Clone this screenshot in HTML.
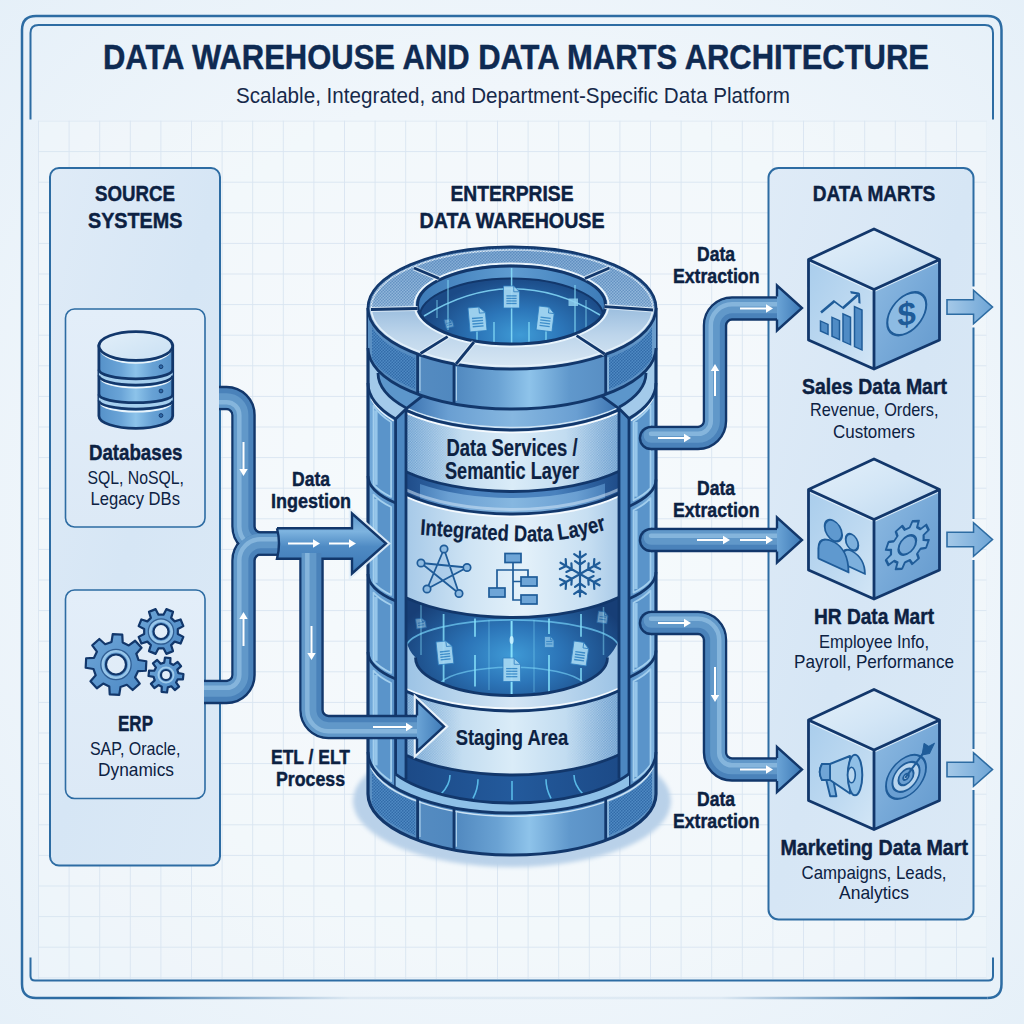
<!DOCTYPE html>
<html lang="en"><head><meta charset="utf-8"><title>Data Warehouse and Data Marts Architecture</title>
<style>
html,body{margin:0;padding:0;background:#eef4fa;}
body{width:1024px;height:1024px;overflow:hidden;}
svg{display:block;font-family:"Liberation Sans",sans-serif;}
</style></head><body>
<svg width="1024" height="1024" viewBox="0 0 1024 1024">

<defs>
<radialGradient id="bg" cx="50%" cy="50%" r="75%">
 <stop offset="0" stop-color="#f6fafd"/><stop offset="0.55" stop-color="#f0f6fb"/><stop offset="1" stop-color="#e4eff8"/>
</radialGradient>
<linearGradient id="botline" x1="0" x2="1" y1="0" y2="0">
 <stop offset="0" stop-color="#2d6ca3"/><stop offset="0.08" stop-color="#2d6ca3"/><stop offset="0.33" stop-color="#2d6ca3" stop-opacity="0.08"/><stop offset="0.72" stop-color="#2d6ca3" stop-opacity="0.08"/><stop offset="0.93" stop-color="#2d6ca3"/><stop offset="1" stop-color="#2d6ca3"/>
</linearGradient>
<linearGradient id="panel" x1="0" x2="1" y1="0" y2="1">
 <stop offset="0" stop-color="#dfebf7"/><stop offset="0.5" stop-color="#d6e6f5"/><stop offset="1" stop-color="#dbe9f6"/>
</linearGradient>
<linearGradient id="ibox" x1="0" x2="0" y1="0" y2="1">
 <stop offset="0" stop-color="#e3eef9"/><stop offset="1" stop-color="#dce9f6"/>
</linearGradient>
<pattern id="grid" x="38" y="120.5" width="30.6" height="30.6" patternUnits="userSpaceOnUse">
 <path d="M0.5,0 V30.6 M0,0.5 H30.6" stroke="#d9e5f1" stroke-width="0.9" fill="none"/>
</pattern>
</defs>

<defs>
<linearGradient id="shaftH" x1="0" x2="0" y1="0" y2="1">
 <stop offset="0" stop-color="#5c97cc"/><stop offset="0.3" stop-color="#7db3df"/><stop offset="0.55" stop-color="#4f8bc4"/><stop offset="1" stop-color="#3c77b4"/>
</linearGradient>
<linearGradient id="headH" x1="0" x2="1" y1="0" y2="0">
 <stop offset="0" stop-color="#6ba4d6"/><stop offset="1" stop-color="#3d79b6"/>
</linearGradient>
<linearGradient id="outArrow" x1="0" x2="1" y1="0" y2="0">
 <stop offset="0" stop-color="#a5c9e8"/><stop offset="1" stop-color="#6ea5d6"/>
</linearGradient>
</defs>

<defs>
<linearGradient id="cubeTop" x1="0" x2="1" y1="0" y2="1">
 <stop offset="0" stop-color="#e4f0fa"/><stop offset="0.5" stop-color="#d3e6f6"/><stop offset="1" stop-color="#bcd7ef"/>
</linearGradient>
<linearGradient id="cubeL" x1="0" x2="1" y1="0" y2="1">
 <stop offset="0" stop-color="#a9cdec"/><stop offset="0.6" stop-color="#bfdaf1"/><stop offset="1" stop-color="#d3e6f6"/>
</linearGradient>
<linearGradient id="cubeR" x1="0" x2="1" y1="0" y2="1">
 <stop offset="0" stop-color="#8fbbe2"/><stop offset="0.5" stop-color="#77a9d8"/><stop offset="1" stop-color="#6399cd"/>
</linearGradient>
</defs>

<defs>
<linearGradient id="dbSide" x1="0" x2="1" y1="0" y2="0">
 <stop offset="0" stop-color="#5591c9"/><stop offset="0.3" stop-color="#6aa4d7"/><stop offset="0.5" stop-color="#8cc3ea"/><stop offset="0.72" stop-color="#68a2d5"/><stop offset="1" stop-color="#5490c8"/>
</linearGradient>
<linearGradient id="dbTop" x1="0" x2="1" y1="0" y2="1">
 <stop offset="0" stop-color="#e2eff9"/><stop offset="1" stop-color="#c9e0f3"/>
</linearGradient>
<linearGradient id="gearG" x1="0" x2="1" y1="0" y2="1">
 <stop offset="0" stop-color="#6ea6d8"/><stop offset="1" stop-color="#4b87c3"/>
</linearGradient>
</defs>

<defs>
<pattern id="dots" width="3" height="3" patternUnits="userSpaceOnUse">
 <circle cx="0.8" cy="0.8" r="0.85" fill="#275f9f" opacity="0.75"/><circle cx="2.3" cy="2.3" r="0.85" fill="#275f9f" opacity="0.75"/>
</pattern>
<pattern id="dotsL" width="2.6" height="2.6" patternUnits="userSpaceOnUse">
 <circle cx="0.7" cy="0.7" r="0.8" fill="#5088c2" opacity="0.8"/><circle cx="2" cy="2" r="0.8" fill="#5088c2" opacity="0.8"/>
</pattern>
<linearGradient id="fadeL" x1="0" x2="1"><stop offset="0" stop-color="#fff" stop-opacity="1"/><stop offset="1" stop-color="#fff" stop-opacity="0"/></linearGradient>
<linearGradient id="fadeR" x1="0" x2="1"><stop offset="0" stop-color="#fff" stop-opacity="0"/><stop offset="1" stop-color="#fff" stop-opacity="1"/></linearGradient>
<mask id="mDotL" maskUnits="userSpaceOnUse" x="400" y="380" width="70" height="420"><rect x="400" y="380" width="62" height="420" fill="url(#fadeL)"/></mask>
<mask id="mDotR" maskUnits="userSpaceOnUse" x="560" y="380" width="70" height="420"><rect x="566" y="380" width="56" height="420" fill="url(#fadeR)"/></mask>
<filter id="blur2" x="-10%" y="-10%" width="120%" height="120%"><feGaussianBlur stdDeviation="2.2"/></filter>
<radialGradient id="shadow" cx="50%" cy="50%" r="50%">
 <stop offset="0" stop-color="#b9d2ea"/><stop offset="0.85" stop-color="#c3d9ee"/><stop offset="1" stop-color="#c9ddf0" stop-opacity="0.3"/>
</radialGradient>
<linearGradient id="capSide" gradientUnits="userSpaceOnUse" x1="368" x2="656" y1="0" y2="0">
 <stop offset="0" stop-color="#5b90c3"/><stop offset="0.3" stop-color="#5088bf"/><stop offset="0.45" stop-color="#6aa2d3"/><stop offset="0.56" stop-color="#8ec3ea"/><stop offset="0.7" stop-color="#6098cc"/><stop offset="0.85" stop-color="#578dc2"/><stop offset="1" stop-color="#6b9dcc"/>
</linearGradient>
<linearGradient id="capTop" gradientUnits="userSpaceOnUse" x1="0" x2="0" y1="247" y2="369">
 <stop offset="0" stop-color="#7fa9d3"/><stop offset="0.45" stop-color="#94b9dc"/><stop offset="0.72" stop-color="#bdd5eb"/><stop offset="1" stop-color="#d9e8f4"/>
</linearGradient>
<linearGradient id="holeWall" gradientUnits="userSpaceOnUse" x1="418" x2="606" y1="0" y2="0">
 <stop offset="0" stop-color="#3d7bb8"/><stop offset="0.5" stop-color="#5e9bd0"/><stop offset="1" stop-color="#3d7bb8"/>
</linearGradient>
<radialGradient id="holeGlow" gradientUnits="userSpaceOnUse" cx="520" cy="335" r="95" gradientTransform="translate(0,134) scale(1,0.6)">
 <stop offset="0" stop-color="#3f9bd6"/><stop offset="0.45" stop-color="#2c76b9"/><stop offset="1" stop-color="#1b4a86"/>
</radialGradient>
<linearGradient id="shell" gradientUnits="userSpaceOnUse" x1="368" x2="656" y1="0" y2="0">
 <stop offset="0" stop-color="#74abdb"/><stop offset="0.09" stop-color="#5a93c9"/><stop offset="0.91" stop-color="#5a93c9"/><stop offset="1" stop-color="#82b6e1"/>
</linearGradient>
<linearGradient id="face1" gradientUnits="userSpaceOnUse" x1="406" x2="619" y1="0" y2="0">
 <stop offset="0" stop-color="#9bc2e3"/><stop offset="0.25" stop-color="#c2dcf0"/><stop offset="0.5" stop-color="#daecf8"/><stop offset="0.8" stop-color="#bdd9ef"/><stop offset="1" stop-color="#96bde0"/>
</linearGradient>
<linearGradient id="face2" gradientUnits="userSpaceOnUse" x1="406" x2="619" y1="0" y2="0">
 <stop offset="0" stop-color="#a6c9e8"/><stop offset="0.3" stop-color="#cfe4f4"/><stop offset="0.55" stop-color="#e4f1fa"/><stop offset="0.85" stop-color="#c7dff2"/><stop offset="1" stop-color="#a9cae8"/>
</linearGradient>
<linearGradient id="gapG" gradientUnits="userSpaceOnUse" x1="406" x2="619" y1="0" y2="0">
 <stop offset="0" stop-color="#1f4c89"/><stop offset="0.14" stop-color="#2d619f"/><stop offset="0.3" stop-color="#4a82be"/><stop offset="0.7" stop-color="#4a82be"/><stop offset="0.86" stop-color="#2d619f"/><stop offset="1" stop-color="#1f4c89"/>
</linearGradient>
<linearGradient id="discTop" gradientUnits="userSpaceOnUse" x1="406" x2="619" y1="0" y2="0">
 <stop offset="0" stop-color="#3a72b0"/><stop offset="0.2" stop-color="#6a9fd2"/><stop offset="0.5" stop-color="#86b7e0"/><stop offset="0.8" stop-color="#6a9fd2"/><stop offset="1" stop-color="#3a72b0"/>
</linearGradient>
<radialGradient id="glow" gradientUnits="userSpaceOnUse" cx="512" cy="655" r="120" gradientTransform="translate(0,262) scale(1,0.6)">
 <stop offset="0" stop-color="#3f9ad6"/><stop offset="0.4" stop-color="#2c75b8"/><stop offset="1" stop-color="#173e76"/>
</radialGradient>
<linearGradient id="darkBand" gradientUnits="userSpaceOnUse" x1="406" x2="619" y1="0" y2="0">
 <stop offset="0" stop-color="#1c4a87"/><stop offset="0.5" stop-color="#235a9c"/><stop offset="1" stop-color="#1c4a87"/>
</linearGradient>
<linearGradient id="ringTop" gradientUnits="userSpaceOnUse" x1="406" x2="619" y1="0" y2="0">
 <stop offset="0" stop-color="#9cc3e5"/><stop offset="0.5" stop-color="#d4e6f5"/><stop offset="1" stop-color="#9cc3e5"/>
</linearGradient>
<clipPath id="winClip"><rect x="406" y="340" width="213" height="520"/></clipPath>
</defs>
<rect width="1024" height="1024" fill="url(#bg)"/>
<rect x="38" y="120.5" width="948" height="858" fill="#f8fbfd" opacity="0.3"/>
<rect x="38" y="120.5" width="948.5" height="858.5" fill="url(#grid)"/>
<path d="M36,998 Q22,998 22,984 V30 Q22,16 36,16 H987.5 Q1001.5,16 1001.5,30 V984 Q1001.5,998 987.5,998" fill="none" stroke="#2d6ca3" stroke-width="2.5"/>
<rect x="36" y="996.75" width="951.5" height="2.5" fill="url(#botline)"/>
<path d="M30.5,119.5 V33 Q30.5,25 38.5,25 H985 Q993,25 993,33 V119.5" fill="none" stroke="#2d6ca3" stroke-width="2"/>
<path d="M30.5,957.5 V976 Q30.5,980.5 35,980.5 H988.5 Q993,980.5 993,976 V957.5" fill="none" stroke="#2d6ca3" stroke-width="2"/>
<rect x="50" y="168" width="170" height="697.5" rx="9" fill="url(#panel)" stroke="#2d6ca3" stroke-width="2"/>
<rect x="65.5" y="309" width="139.5" height="218" rx="9" fill="url(#ibox)" stroke="#2d6ca3" stroke-width="1.6"/>
<rect x="65.5" y="590" width="139.5" height="208.5" rx="9" fill="url(#ibox)" stroke="#2d6ca3" stroke-width="1.6"/>
<rect x="768.5" y="168" width="205" height="751.5" rx="10" fill="url(#panel)" stroke="#2d6ca3" stroke-width="2"/>
<ellipse cx="512" cy="801" rx="159" ry="66" fill="#b9d1e9" filter="url(#blur2)"/>
<path d="M368,383 V794 A144,61 0 0 0 656,794 V383 Z" fill="#183f78"/>
<g clip-path="url(#winClip)">
<path d="M406,386.29 A144,61 0 0 0 619,385.82 L619,409.82 A144,61 0 0 1 406,410.29 Z" fill="url(#discTop)"/>
<path d="M406,407.89 A144,61 0 0 0 619,407.42" fill="none" stroke="#cfe4f5" stroke-width="1.6"/>
<rect x="406" y="560" width="213" height="160" fill="url(#glow)"/>
<path d="M406,646 A107,29 0 0 1 619,646" fill="none" stroke="#6fc8f0" stroke-width="1.8" opacity="0.75"/>
<path d="M440,683 A75,22 0 0 1 584,683" fill="none" stroke="#6fc8f0" stroke-width="1.5" opacity="0.7"/>
<path d="M421,605 V655" stroke="#86e0fa" stroke-width="1.5" opacity="0.45"/>
<path d="M443.6,614 V682" stroke="#86e0fa" stroke-width="1.8" opacity="0.8"/>
<path d="M475,618.5 V636.7" stroke="#86e0fa" stroke-width="1.8" opacity="0.85"/>
<path d="M475,655 V686.5" stroke="#86e0fa" stroke-width="1.8" opacity="0.85"/>
<path d="M489,620 V690" stroke="#86e0fa" stroke-width="1.3" opacity="0.35"/>
<path d="M511.6,621 V696" stroke="#86e0fa" stroke-width="2" opacity="1"/>
<path d="M534,620 V692" stroke="#86e0fa" stroke-width="1.3" opacity="0.35"/>
<path d="M549,618.5 V634" stroke="#86e0fa" stroke-width="1.8" opacity="0.85"/>
<path d="M549,655 V693" stroke="#86e0fa" stroke-width="1.8" opacity="0.85"/>
<path d="M581,614 V636.7" stroke="#86e0fa" stroke-width="1.8" opacity="0.8"/>
<path d="M581,668 V681" stroke="#86e0fa" stroke-width="1.8" opacity="0.8"/>
<path d="M603.5,607 V655" stroke="#86e0fa" stroke-width="1.5" opacity="0.45"/>
<ellipse cx="511.6" cy="640" rx="2" ry="4" fill="#c9f2ff" opacity="0.9"/>
<g transform="translate(436,642) rotate(-6)" opacity="0.92"><path d="M0,0 H9.92 L15.5,5.58 V23 H0 Z" fill="#a5d8f3" stroke="#2f7fc0" stroke-width="0.8"/><path d="M9.92,0 V5.58 H15.5" fill="none" stroke="#2f7fc0" stroke-width="0.8"/><path d="M2.79,10.35 H12.71" stroke="#3f8fcb" stroke-width="1.3"/><path d="M2.79,12.99 H12.71" stroke="#3f8fcb" stroke-width="1.3"/><path d="M2.79,15.64 H12.71" stroke="#3f8fcb" stroke-width="1.3"/><path d="M2.79,18.29 H12.71" stroke="#3f8fcb" stroke-width="1.3"/></g>
<g transform="translate(503,658) rotate(0)" opacity="0.92"><path d="M0,0 H11.2 L17.5,6.3 V23.5 H0 Z" fill="#a5d8f3" stroke="#2f7fc0" stroke-width="0.8"/><path d="M11.2,0 V6.3 H17.5" fill="none" stroke="#2f7fc0" stroke-width="0.8"/><path d="M3.15,10.58 H14.35" stroke="#3f8fcb" stroke-width="1.3"/><path d="M3.15,13.28 H14.35" stroke="#3f8fcb" stroke-width="1.3"/><path d="M3.15,15.98 H14.35" stroke="#3f8fcb" stroke-width="1.3"/><path d="M3.15,18.68 H14.35" stroke="#3f8fcb" stroke-width="1.3"/></g>
<g transform="translate(574,641) rotate(8)" opacity="0.92"><path d="M0,0 H9.92 L15.5,5.58 V23 H0 Z" fill="#a5d8f3" stroke="#2f7fc0" stroke-width="0.8"/><path d="M9.92,0 V5.58 H15.5" fill="none" stroke="#2f7fc0" stroke-width="0.8"/><path d="M2.79,10.35 H12.71" stroke="#3f8fcb" stroke-width="1.3"/><path d="M2.79,12.99 H12.71" stroke="#3f8fcb" stroke-width="1.3"/><path d="M2.79,15.64 H12.71" stroke="#3f8fcb" stroke-width="1.3"/><path d="M2.79,18.29 H12.71" stroke="#3f8fcb" stroke-width="1.3"/></g>
<g transform="translate(415.5,619) rotate(-8)" opacity="0.55"><path d="M0,0 H6.08 L9.5,3.42 V10 H0 Z" fill="#a5d8f3" stroke="#2f7fc0" stroke-width="0.8"/><path d="M6.08,0 V3.42 H9.5" fill="none" stroke="#2f7fc0" stroke-width="0.8"/><path d="M1.71,4.5 H7.79" stroke="#3f8fcb" stroke-width="1"/><path d="M1.71,6.8 H7.79" stroke="#3f8fcb" stroke-width="1"/></g>
<g transform="translate(544.5,636.5) rotate(0)" opacity="0.6"><path d="M0,0 H6.08 L9.5,3.42 V11 H0 Z" fill="#a5d8f3" stroke="#2f7fc0" stroke-width="0.8"/><path d="M6.08,0 V3.42 H9.5" fill="none" stroke="#2f7fc0" stroke-width="0.8"/><path d="M1.71,4.95 H7.79" stroke="#3f8fcb" stroke-width="1"/><path d="M1.71,7.48 H7.79" stroke="#3f8fcb" stroke-width="1"/></g>
<g transform="translate(598.5,611) rotate(8)" opacity="0.55"><path d="M0,0 H6.4 L10,3.6 V11.5 H0 Z" fill="#a5d8f3" stroke="#2f7fc0" stroke-width="0.8"/><path d="M6.4,0 V3.6 H10" fill="none" stroke="#2f7fc0" stroke-width="0.8"/><path d="M1.8,5.17 H8.2" stroke="#3f8fcb" stroke-width="1"/><path d="M1.8,7.82 H8.2" stroke="#3f8fcb" stroke-width="1"/></g>
<path d="M406,640 Q408.5,651 415.5,657.5 A96,38 0 0 0 607.5,657.5 Q614.5,651 619,640 V689.82 A144,61 0 0 1 406,690.29 Z" fill="url(#ringTop)"/>
<path d="M415.5,657.5 A96,38 0 0 0 607.5,657.5" fill="none" stroke="#12376b" stroke-width="2.8"/>
<path d="M406,691.29 A144,61 0 0 0 619,690.82 L619,754.82 A144,61 0 0 1 406,755.29 Z" fill="url(#face1)"/>
<path d="M406,691.29 A144,61 0 0 0 619,690.82 L619,754.82 A144,61 0 0 1 406,755.29 Z" fill="url(#dotsL)" mask="url(#mDotL)"/>
<path d="M406,691.29 A144,61 0 0 0 619,690.82 L619,754.82 A144,61 0 0 1 406,755.29 Z" fill="url(#dotsL)" mask="url(#mDotR)"/>
<path d="M406,688.69 A144,61 0 0 0 619,688.22" fill="none" stroke="#f4f9fd" stroke-width="1.6"/>
<path d="M406,691.29 A144,61 0 0 0 619,690.82" fill="none" stroke="#12376b" stroke-width="2.8"/>
<path d="M394,748.96 A144,61 0 0 0 631,748.35 L631,786.35 A144,61 0 0 1 394,786.96 Z" fill="url(#darkBand)"/>
<path d="M450,775.06 Q450,785.06 441,794.06" stroke="#5fc4f0" stroke-width="1.6" fill="none" opacity="0.9"/>
<path d="M478,779.28 Q478,789.28 473,798.28" stroke="#5fc4f0" stroke-width="1.6" fill="none" opacity="0.9"/>
<path d="M512,781 Q512,791 512,800" stroke="#5fc4f0" stroke-width="1.6" fill="none" opacity="0.9"/>
<path d="M546,779.28 Q546,789.28 551,798.28" stroke="#5fc4f0" stroke-width="1.6" fill="none" opacity="0.9"/>
<path d="M574,775.06 Q574,785.06 583,794.06" stroke="#5fc4f0" stroke-width="1.6" fill="none" opacity="0.9"/>
<path d="M406,755.29 A144,61 0 0 0 619,754.82" fill="none" stroke="#12376b" stroke-width="2.8"/>
<path d="M406,471.79 A144,61 0 0 0 619,471.32 L619,493.82 A144,61 0 0 1 406,494.29 Z" fill="url(#gapG)"/>
<path d="M420,483.93 A144,61 0 0 0 605,483.57 L605,499.57 A144,61 0 0 1 420,499.93 Z" fill="url(#discTop)"/>
<path d="M406,489.79 A144,61 0 0 0 619,489.32" fill="none" stroke="#cfe4f5" stroke-width="3" opacity="0.55"/>
<path d="M406,494.29 A144,61 0 0 0 619,493.82 L619,597.32 A144,61 0 0 1 406,597.79 Z" fill="url(#face2)"/>
<path d="M406,496.79 A144,61 0 0 0 619,496.32" fill="none" stroke="#f6fafe" stroke-width="1.6"/>
<path d="M406,494.29 A144,61 0 0 0 619,493.82" fill="none" stroke="#12376b" stroke-width="2.8"/>
<path d="M406,597.79 A144,61 0 0 0 619,597.32" fill="none" stroke="#12376b" stroke-width="2.8"/>
<path d="M406,410.29 A144,61 0 0 0 619,409.82 L619,471.32 A144,61 0 0 1 406,471.79 Z" fill="url(#face1)"/>
<path d="M406,410.29 A144,61 0 0 0 619,409.82 L619,471.32 A144,61 0 0 1 406,471.79 Z" fill="url(#dotsL)" mask="url(#mDotL)"/>
<path d="M406,410.29 A144,61 0 0 0 619,409.82 L619,471.32 A144,61 0 0 1 406,471.79 Z" fill="url(#dotsL)" mask="url(#mDotR)"/>
<path d="M406,412.79 A144,61 0 0 0 619,412.32" fill="none" stroke="#f6fafe" stroke-width="1.6"/>
<path d="M406,410.29 A144,61 0 0 0 619,409.82" fill="none" stroke="#12376b" stroke-width="2.8"/>
<path d="M406,471.79 A144,61 0 0 0 619,471.32" fill="none" stroke="#12376b" stroke-width="2.8"/>
</g>
<path d="M395.6,418.91 L406,408.91 V778.91 L395.6,787.91 Z" fill="#4c87c1"/>
<path d="M368,383 A144,61 0 0 0 395.6,418.91 L395.6,787.91 L395.6,787.91 A144,61 0 0 1 368,752 Z" fill="url(#shell)"/>
<path d="M373.5,405.7 A144,61 0 0 0 391.1,422.14 L391.1,496.99 L391.1,496.99 A144,46 0 0 1 373.5,484.59 Z" fill="#5a94ca" stroke="#a3cfee" stroke-width="1.7" stroke-linejoin="round"/>
<path d="M375.9,410.39 V484.87" fill="none" stroke="#9ccbed" stroke-width="3.4" opacity="0.9"/>
<path d="M373.5,494.59 A144,46 0 0 0 391.1,506.99 L391.1,594.99 L391.1,594.99 A144,46 0 0 1 373.5,582.59 Z" fill="#5a94ca" stroke="#a3cfee" stroke-width="1.7" stroke-linejoin="round"/>
<path d="M375.9,498.87 V582.87" fill="none" stroke="#9ccbed" stroke-width="3.4" opacity="0.9"/>
<path d="M373.5,592.59 A144,46 0 0 0 391.1,604.99 L391.1,672.99 L391.1,672.99 A144,46 0 0 1 373.5,660.59 Z" fill="#5a94ca" stroke="#a3cfee" stroke-width="1.7" stroke-linejoin="round"/>
<path d="M375.9,596.87 V660.87" fill="none" stroke="#9ccbed" stroke-width="3.4" opacity="0.9"/>
<path d="M373.5,670.59 A144,46 0 0 0 391.1,682.99 L391.1,781.14 L391.1,781.14 A144,61 0 0 1 373.5,764.7 Z" fill="#5a94ca" stroke="#a3cfee" stroke-width="1.7" stroke-linejoin="round"/>
<path d="M375.9,674.87 V765.39" fill="none" stroke="#9ccbed" stroke-width="3.4" opacity="0.9"/>
<path d="M368,476 A144,46 0 0 0 395.6,503.08" fill="none" stroke="#12376b" stroke-width="2.8"/>
<path d="M368,574 A144,46 0 0 0 395.6,601.08" fill="none" stroke="#12376b" stroke-width="2.8"/>
<path d="M368,652 A144,46 0 0 0 395.6,679.08" fill="none" stroke="#12376b" stroke-width="2.8"/>
<path d="M395.6,418.91 V787.91" stroke="#12376b" stroke-width="2.8"/>
<path d="M406,408.91 V778.91" stroke="#12376b" stroke-width="2.8"/>
<path d="M395.6,787.91 L406,778.91" stroke="#12376b" stroke-width="2.8"/>
<path d="M629,418.56 L619,408.56 V778.56 L629,787.56 Z" fill="#4c87c1"/>
<path d="M656,383 A144,61 0 0 1 629,418.56 L629,787.56 L629,787.56 A144,61 0 0 0 656,752 Z" fill="url(#shell)"/>
<path d="M650.5,405.7 A144,61 0 0 1 633.5,421.74 L633.5,500.29 L633.5,500.29 A144,46 0 0 0 650.5,488.19 Z" fill="#5a94ca" stroke="#a3cfee" stroke-width="1.7" stroke-linejoin="round"/>
<path d="M635.9,421.93 V496.68" fill="none" stroke="#9ccbed" stroke-width="3.4" opacity="0.9"/>
<path d="M650.5,498.19 A144,46 0 0 1 633.5,510.29 L633.5,592.69 L633.5,592.69 A144,46 0 0 0 650.5,580.59 Z" fill="#5a94ca" stroke="#a3cfee" stroke-width="1.7" stroke-linejoin="round"/>
<path d="M635.9,510.68 V589.08" fill="none" stroke="#9ccbed" stroke-width="3.4" opacity="0.9"/>
<path d="M650.5,590.59 A144,46 0 0 1 633.5,602.69 L633.5,671.29 L633.5,671.29 A144,46 0 0 0 650.5,659.19 Z" fill="#5a94ca" stroke="#a3cfee" stroke-width="1.7" stroke-linejoin="round"/>
<path d="M635.9,603.08 V667.68" fill="none" stroke="#9ccbed" stroke-width="3.4" opacity="0.9"/>
<path d="M650.5,669.19 A144,46 0 0 1 633.5,681.29 L633.5,780.74 L633.5,780.74 A144,61 0 0 0 650.5,764.7 Z" fill="#5a94ca" stroke="#a3cfee" stroke-width="1.7" stroke-linejoin="round"/>
<path d="M635.9,681.68 V776.93" fill="none" stroke="#9ccbed" stroke-width="3.4" opacity="0.9"/>
<path d="M656,479.6 A144,46 0 0 1 629,506.42" fill="none" stroke="#12376b" stroke-width="2.8"/>
<path d="M656,572 A144,46 0 0 1 629,598.82" fill="none" stroke="#12376b" stroke-width="2.8"/>
<path d="M656,650.6 A144,46 0 0 1 629,677.42" fill="none" stroke="#12376b" stroke-width="2.8"/>
<path d="M629,418.56 V787.56" stroke="#12376b" stroke-width="2.8"/>
<path d="M619,408.56 V778.56" stroke="#12376b" stroke-width="2.8"/>
<path d="M629,787.56 L619,778.56" stroke="#12376b" stroke-width="2.8"/>
<path d="M368,383 A144,61 0 0 0 395.6,418.91 L406,408.91 L422.5,395.79 L422.5,395.79 A144,61 0 0 1 368,348 Z" fill="#a3caea"/>
<path d="M378,373 A134,57 0 0 0 406,407.87 L422.5,395.79 L422.5,395.79 A144,61 0 0 1 368,348 Z" fill="#5c96cb"/>
<path d="M378,373 A134,57 0 0 0 406,407.87" fill="none" stroke="#12376b" stroke-width="2.8"/>
<path d="M395.6,418.91 L406,408.91 L422.5,395.79" fill="none" stroke="#12376b" stroke-width="2.8" stroke-linejoin="round"/>
<path d="M371,398.59 A144,61 0 0 0 393.6,420.92" fill="none" stroke="#e3f0fa" stroke-width="1.4"/>
<path d="M368,383 A144,61 0 0 0 395.6,418.91" fill="none" stroke="#12376b" stroke-width="2.8"/>
<path d="M656,383 A144,61 0 0 1 629,418.56 L619,408.56 L601.5,395.79 L601.5,395.79 A144,61 0 0 0 656,348 Z" fill="#a3caea"/>
<path d="M646,373 A134,57 0 0 1 619,407.31 L601.5,395.79 L601.5,395.79 A144,61 0 0 0 656,348 Z" fill="#5c96cb"/>
<path d="M646,373 A134,57 0 0 1 619,407.31" fill="none" stroke="#12376b" stroke-width="2.8"/>
<path d="M629,418.56 L619,408.56 L601.5,395.79" fill="none" stroke="#12376b" stroke-width="2.8" stroke-linejoin="round"/>
<path d="M653,398.59 A144,61 0 0 1 631,420.55" fill="none" stroke="#e3f0fa" stroke-width="1.4"/>
<path d="M656,383 A144,61 0 0 1 629,418.56" fill="none" stroke="#12376b" stroke-width="2.8"/>
<path d="M395.6,787.91 A144,61 0 0 0 629,787.56 L629,773.79 A134,57 0 0 1 395.6,774.24 Z" fill="#8ec0e7"/>
<path d="M395.6,774.24 A134,57 0 0 0 629,773.79" fill="none" stroke="#12376b" stroke-width="2.8"/>
<path d="M368,752 A144,61 0 0 0 656,752 V794 A144,61 0 0 1 368,794 Z" fill="url(#capSide)"/>
<path d="M372,771.28 A144,61 0 0 0 415.1,802.12 L415.1,835.12 L415.1,835.12 A144,61 0 0 1 372,804.28 Z" fill="#4f8ac3"/><path d="M372,771.28 A144,61 0 0 0 415.1,802.12 L415.1,835.12 L415.1,835.12 A144,61 0 0 1 372,804.28 Z" fill="url(#dots)"/>
<path d="M608.2,802.39 A144,61 0 0 0 652,771.28 L652,804.28 L652,804.28 A144,61 0 0 1 608.2,835.39 Z" fill="#4f8ac3"/><path d="M608.2,802.39 A144,61 0 0 0 652,771.28 L652,804.28 L652,804.28 A144,61 0 0 1 608.2,835.39 Z" fill="url(#dots)"/>
<path d="M371,767.69 A144,61 0 0 0 653,767.69" fill="none" stroke="#d9ecfa" stroke-width="1.5" opacity="0.9"/>
<path d="M417.6,798.06 V840.06" stroke="#12376b" stroke-width="2.8"/>
<path d="M420,801.06 V837.06" stroke="#bfe0f6" stroke-width="1.2" opacity="0.8"/>
<path d="M454,807.83 V849.83" stroke="#12376b" stroke-width="2.8"/>
<path d="M456.4,810.83 V846.83" stroke="#bfe0f6" stroke-width="1.2" opacity="0.8"/>
<path d="M605.7,798.32 V840.32" stroke="#12376b" stroke-width="2.8"/>
<path d="M608.1,801.32 V837.32" stroke="#bfe0f6" stroke-width="1.2" opacity="0.8"/>
<path d="M368,752 A144,61 0 0 0 656,752" fill="none" stroke="#12376b" stroke-width="2.8"/>
<path d="M368,308 V794 A144,61 0 0 0 656,794 V308" fill="none" stroke="#12376b" stroke-width="3.2"/>
<path d="M368,308 A144,61 0 0 0 656,308 V348 A144,61 0 0 1 368,348 Z" fill="url(#capSide)"/>
<path d="M372,327.28 A144,61 0 0 0 415.1,358.12 L415.1,389.12 L415.1,389.12 A144,61 0 0 1 372,358.28 Z" fill="#4f8ac3"/><path d="M372,327.28 A144,61 0 0 0 415.1,358.12 L415.1,389.12 L415.1,389.12 A144,61 0 0 1 372,358.28 Z" fill="url(#dots)"/>
<path d="M608.2,358.39 A144,61 0 0 0 652,327.28 L652,358.28 L652,358.28 A144,61 0 0 1 608.2,389.39 Z" fill="#4f8ac3"/><path d="M608.2,358.39 A144,61 0 0 0 652,327.28 L652,358.28 L652,358.28 A144,61 0 0 1 608.2,389.39 Z" fill="url(#dots)"/>
<path d="M417.6,354.06 V394.06" stroke="#12376b" stroke-width="2.8"/>
<path d="M420,357.06 V391.06" stroke="#bfe0f6" stroke-width="1.2" opacity="0.8"/>
<path d="M454,363.83 V403.83" stroke="#12376b" stroke-width="2.8"/>
<path d="M456.4,366.83 V400.83" stroke="#bfe0f6" stroke-width="1.2" opacity="0.8"/>
<path d="M605.7,354.32 V394.32" stroke="#12376b" stroke-width="2.8"/>
<path d="M608.1,357.32 V391.32" stroke="#bfe0f6" stroke-width="1.2" opacity="0.8"/>
<path d="M368,348 A144,61 0 0 0 656,348" fill="none" stroke="#12376b" stroke-width="2.8"/>
<ellipse cx="512" cy="308" rx="144" ry="61" fill="url(#capTop)" stroke="#12376b" stroke-width="2.8"/>
<ellipse cx="512" cy="308" rx="140.8" ry="58" fill="none" stroke="#e6f2fb" stroke-width="1.6" opacity="0.9"/>
<path d="M368,308 A144,61 0 0 1 656,308 L606,305 A94,39 0 0 0 418,305 Z" fill="url(#dots)" opacity="0.55"/>
<ellipse cx="511.5" cy="305" rx="97" ry="41.5" fill="none" stroke="#e9f4fc" stroke-width="1.8"/>
<ellipse cx="511.5" cy="305" rx="94" ry="39" fill="url(#holeWall)"/>
<clipPath id="holeClip"><ellipse cx="511.5" cy="305" rx="94" ry="39"/></clipPath>
<g clip-path="url(#holeClip)">
<ellipse cx="511.5" cy="317.5" rx="92" ry="39" fill="url(#holeGlow)" stroke="#12376b" stroke-width="2"/>
<path d="M424,316 Q512,262 600,315" fill="none" stroke="#7fd3f3" stroke-width="1.6" opacity="0.9"/>
<path d="M448,280 V330" stroke="#86dcf8" stroke-width="1.5" opacity="0.6"/>
<path d="M511.6,268 V345" stroke="#86dcf8" stroke-width="1.5" opacity="0.9"/>
<path d="M575,285 V335" stroke="#86dcf8" stroke-width="1.5" opacity="0.7"/>
<path d="M494,322 V342" stroke="#86dcf8" stroke-width="1.5" opacity="0.8"/>
<path d="M529,322 V342" stroke="#86dcf8" stroke-width="1.5" opacity="0.8"/>
<path d="M477,330 V345" stroke="#86dcf8" stroke-width="1.5" opacity="0.8"/>
<path d="M546,330 V345" stroke="#86dcf8" stroke-width="1.5" opacity="0.8"/>
<path d="M437,300 V318" stroke="#86dcf8" stroke-width="1.5" opacity="0.5"/>
<path d="M586,300 V330" stroke="#86dcf8" stroke-width="1.5" opacity="0.5"/>
<g transform="translate(503.5,286) rotate(0)" opacity="0.92"><path d="M0,0 H10.24 L16,5.76 V22 H0 Z" fill="#a5d8f3" stroke="#2f7fc0" stroke-width="0.8"/><path d="M10.24,0 V5.76 H16" fill="none" stroke="#2f7fc0" stroke-width="0.8"/><path d="M2.88,9.9 H13.12" stroke="#3f8fcb" stroke-width="1.3"/><path d="M2.88,12.43 H13.12" stroke="#3f8fcb" stroke-width="1.3"/><path d="M2.88,14.96 H13.12" stroke="#3f8fcb" stroke-width="1.3"/><path d="M2.88,17.49 H13.12" stroke="#3f8fcb" stroke-width="1.3"/></g>
<g transform="translate(468,308) rotate(-5)" opacity="0.92"><path d="M0,0 H10.88 L17,6.12 V24 H0 Z" fill="#a5d8f3" stroke="#2f7fc0" stroke-width="0.8"/><path d="M10.88,0 V6.12 H17" fill="none" stroke="#2f7fc0" stroke-width="0.8"/><path d="M3.06,10.8 H13.94" stroke="#3f8fcb" stroke-width="1.3"/><path d="M3.06,13.56 H13.94" stroke="#3f8fcb" stroke-width="1.3"/><path d="M3.06,16.32 H13.94" stroke="#3f8fcb" stroke-width="1.3"/><path d="M3.06,19.08 H13.94" stroke="#3f8fcb" stroke-width="1.3"/></g>
<g transform="translate(539,306) rotate(7)" opacity="0.92"><path d="M0,0 H10.24 L16,5.76 V24 H0 Z" fill="#a5d8f3" stroke="#2f7fc0" stroke-width="0.8"/><path d="M10.24,0 V5.76 H16" fill="none" stroke="#2f7fc0" stroke-width="0.8"/><path d="M2.88,10.8 H13.12" stroke="#3f8fcb" stroke-width="1.3"/><path d="M2.88,13.56 H13.12" stroke="#3f8fcb" stroke-width="1.3"/><path d="M2.88,16.32 H13.12" stroke="#3f8fcb" stroke-width="1.3"/><path d="M2.88,19.08 H13.12" stroke="#3f8fcb" stroke-width="1.3"/></g>
<rect x="568.5" y="298.5" width="9.5" height="7.5" fill="#8fd0f0" opacity="0.85"/>
<g transform="translate(444,320) rotate(-15)" opacity="0.5"><path d="M0,0 H5.12 L8,2.88 V9 H0 Z" fill="#a5d8f3" stroke="#2f7fc0" stroke-width="0.8"/><path d="M5.12,0 V2.88 H8" fill="none" stroke="#2f7fc0" stroke-width="0.8"/><path d="M1.44,4.05 H6.56" stroke="#3f8fcb" stroke-width="1"/><path d="M1.44,6.12 H6.56" stroke="#3f8fcb" stroke-width="1"/></g>
</g>
<ellipse cx="511.5" cy="305" rx="94" ry="39" fill="none" stroke="#12376b" stroke-width="3"/>
<path d="M414,268 L439,278.5" stroke="#e6f2fb" stroke-width="5" opacity="0.8"/>
<path d="M371,309.5 L417.6,308.5" stroke="#e6f2fb" stroke-width="5" opacity="0.8"/>
<path d="M420.5,353.5 L447.6,336.6" stroke="#e6f2fb" stroke-width="5" opacity="0.8"/>
<path d="M456,364 L474,342" stroke="#e6f2fb" stroke-width="5" opacity="0.8"/>
<path d="M609.4,268 L585,278.5" stroke="#e6f2fb" stroke-width="5" opacity="0.8"/>
<path d="M653,310 L604.7,306.6" stroke="#e6f2fb" stroke-width="5" opacity="0.8"/>
<path d="M604.7,354 L576.6,335.6" stroke="#e6f2fb" stroke-width="5" opacity="0.8"/>
<path d="M414,268 L439,278.5" stroke="#12376b" stroke-width="2.8"/>
<path d="M371,309.5 L417.6,308.5" stroke="#12376b" stroke-width="2.8"/>
<path d="M420.5,353.5 L447.6,336.6" stroke="#12376b" stroke-width="2.8"/>
<path d="M456,364 L474,342" stroke="#12376b" stroke-width="2.8"/>
<path d="M609.4,268 L585,278.5" stroke="#12376b" stroke-width="2.8"/>
<path d="M653,310 L604.7,306.6" stroke="#12376b" stroke-width="2.8"/>
<path d="M604.7,354 L576.6,335.6" stroke="#12376b" stroke-width="2.8"/>
<path d="M219,398 L226.5,398 A17,17 0 0 1 243.5,415 L243.5,526.5 A17,17 0 0 0 260.5,543.5 L300,543.5" fill="none" stroke="#12376b" stroke-width="24.5" stroke-linecap="butt"/>
<path d="M204,692 L226.5,692 A17,17 0 0 0 243.5,675 L243.5,560.5 A17,17 0 0 1 260.5,543.5 L300,543.5" fill="none" stroke="#12376b" stroke-width="24.5" stroke-linecap="butt"/>
<path d="M219,398 L226.5,398 A17,17 0 0 1 243.5,415 L243.5,526.5 A17,17 0 0 0 260.5,543.5 L300,543.5" fill="none" stroke="#4a82ba" stroke-width="19.7" stroke-linecap="butt"/><path d="M219,400.5 L226.5,400.5 A14.5,14.5 0 0 1 241,415 L241,526.5 A19.5,19.5 0 0 0 260.5,546 L300,546" fill="none" stroke="#6198c9" stroke-width="14.7" stroke-linecap="butt"/><path d="M219,402.2 L226.5,402.2 A12.8,12.8 0 0 1 239.3,415 L239.3,526.5 A21.2,21.2 0 0 0 260.5,547.7 L300,547.7" fill="none" stroke="#8ab8de" stroke-width="4.5" stroke-linecap="butt" opacity="0.9"/>
<path d="M204,692 L226.5,692 A17,17 0 0 0 243.5,675 L243.5,560.5 A17,17 0 0 1 260.5,543.5 L300,543.5" fill="none" stroke="#4a82ba" stroke-width="19.7" stroke-linecap="butt"/><path d="M204,689.5 L226.5,689.5 A14.5,14.5 0 0 0 241,675 L241,560.5 A19.5,19.5 0 0 1 260.5,541 L300,541" fill="none" stroke="#6198c9" stroke-width="14.7" stroke-linecap="butt"/><path d="M204,687.8 L226.5,687.8 A12.8,12.8 0 0 0 239.3,675 L239.3,560.5 A21.2,21.2 0 0 1 260.5,539.3 L300,539.3" fill="none" stroke="#8ab8de" stroke-width="4.5" stroke-linecap="butt" opacity="0.9"/>
<path d="M311.5,553 L311.5,710 A17,17 0 0 0 328.5,727 L420,727" fill="none" stroke="#12376b" stroke-width="24.5" stroke-linecap="butt"/>
<path d="M352,528 V513.5 L386,543.5 L352,573.5 V559" fill="none" stroke="#e3effa" stroke-width="6.5" stroke-linejoin="miter" opacity="0.9"/>
<path d="M277,528.2 H352 V513.5 L386,543.5 L352,573.5 V558.8 H277 Q281,543.5 277,528.2" fill="url(#shaftH)" stroke="#12376b" stroke-width="2.4" stroke-linejoin="miter"/>
<path d="M311.5,553 L311.5,710 A17,17 0 0 0 328.5,727 L420,727" fill="none" stroke="#4a82ba" stroke-width="19.7" stroke-linecap="butt"/><path d="M309,553 L309,710 A19.5,19.5 0 0 0 328.5,729.5 L420,729.5" fill="none" stroke="#6198c9" stroke-width="14.7" stroke-linecap="butt"/><path d="M307.3,553 L307.3,710 A21.2,21.2 0 0 0 328.5,731.2 L420,731.2" fill="none" stroke="#8ab8de" stroke-width="4.5" stroke-linecap="butt" opacity="0.9"/>
<path d="M417,714.5 V701 L444,726.5 L417,751.5 V739.5" fill="none" stroke="#eef6fc" stroke-width="6.5" opacity="0.95"/>
<path d="M417,715.5 V701 L444,726.5 L417,751.5 V738.5" fill="url(#headH)" stroke="#12376b" stroke-width="2.4"/>
<path d="M243.5,442 L243.5,470" stroke="#fff" stroke-width="2" fill="none"/><path d="M243.5,476 L239.3,469 L247.7,469 Z" fill="#fff"/>
<path d="M288,543.5 L314,543.5" stroke="#fff" stroke-width="2" fill="none"/><path d="M320,543.5 L313,547.7 L313,539.3 Z" fill="#fff"/>
<path d="M329,543.5 L350,543.5" stroke="#fff" stroke-width="2" fill="none"/><path d="M356,543.5 L349,547.7 L349,539.3 Z" fill="#fff"/>
<path d="M243.5,646 L243.5,618" stroke="#fff" stroke-width="2" fill="none"/><path d="M243.5,612 L247.7,619 L239.3,619 Z" fill="#fff"/>
<path d="M311.5,626 L311.5,654" stroke="#fff" stroke-width="2" fill="none"/><path d="M311.5,660 L307.3,653 L315.7,653 Z" fill="#fff"/>
<path d="M373,727 L407,727" stroke="#fff" stroke-width="2" fill="none"/><path d="M413,727 L406,731.2 L406,722.8 Z" fill="#fff"/>
<circle cx="651" cy="438" r="12.25" fill="#12376b"/>
<path d="M651,438 L698,438 A17,17 0 0 0 715,421 L715,325.5 A17,17 0 0 1 732,308.5 L780,308.5" fill="none" stroke="#12376b" stroke-width="24.5" stroke-linecap="butt"/>
<circle cx="651" cy="540" r="12.25" fill="#12376b"/>
<path d="M651,540 L780,540" fill="none" stroke="#12376b" stroke-width="24.5" stroke-linecap="butt"/>
<circle cx="651" cy="623" r="12.25" fill="#12376b"/>
<path d="M651,623 L698,623 A17,17 0 0 1 715,640 L715,752.5 A17,17 0 0 0 732,769.5 L780,769.5" fill="none" stroke="#12376b" stroke-width="24.5" stroke-linecap="butt"/>
<path d="M651,438 L698,438 A17,17 0 0 0 715,421 L715,325.5 A17,17 0 0 1 732,308.5 L780,308.5" fill="none" stroke="#4a82ba" stroke-width="19.7" stroke-linecap="round"/><path d="M651,435.5 L698,435.5 A14.5,14.5 0 0 0 712.5,421 L712.5,325.5 A19.5,19.5 0 0 1 732,306 L780,306" fill="none" stroke="#6198c9" stroke-width="14.7" stroke-linecap="round"/><path d="M651,433.8 L698,433.8 A12.8,12.8 0 0 0 710.8,421 L710.8,325.5 A21.2,21.2 0 0 1 732,304.3 L780,304.3" fill="none" stroke="#8ab8de" stroke-width="4.5" stroke-linecap="round" opacity="0.9"/>
<path d="M651,540 L780,540" fill="none" stroke="#4a82ba" stroke-width="19.7" stroke-linecap="round"/><path d="M651,537.5 L780,537.5" fill="none" stroke="#6198c9" stroke-width="14.7" stroke-linecap="round"/><path d="M651,535.8 L780,535.8" fill="none" stroke="#8ab8de" stroke-width="4.5" stroke-linecap="round" opacity="0.9"/>
<path d="M651,623 L698,623 A17,17 0 0 1 715,640 L715,752.5 A17,17 0 0 0 732,769.5 L780,769.5" fill="none" stroke="#4a82ba" stroke-width="19.7" stroke-linecap="round"/><path d="M651,620.5 L698,620.5 A19.5,19.5 0 0 1 717.5,640 L717.5,752.5 A14.5,14.5 0 0 0 732,767 L780,767" fill="none" stroke="#6198c9" stroke-width="14.7" stroke-linecap="round"/><path d="M651,618.8 L698,618.8 A21.2,21.2 0 0 1 719.2,640 L719.2,752.5 A12.8,12.8 0 0 0 732,765.3 L780,765.3" fill="none" stroke="#8ab8de" stroke-width="4.5" stroke-linecap="round" opacity="0.9"/>
<path d="M777,296.6 V285.5 L802,308 L777,330.5 V319.4" fill="url(#headH)" stroke="#12376b" stroke-width="2.4"/>
<path d="M777,528.6 V517.5 L802,540 L777,562.5 V551.4" fill="url(#headH)" stroke="#12376b" stroke-width="2.4"/>
<path d="M777,758.1 V747 L802,769.5 L777,792 V780.9" fill="url(#headH)" stroke="#12376b" stroke-width="2.4"/>
<path d="M658,438 L685,438" stroke="#fff" stroke-width="2" fill="none"/><path d="M691,438 L684,442.2 L684,433.8 Z" fill="#fff"/>
<path d="M715,396 L715,370" stroke="#fff" stroke-width="2" fill="none"/><path d="M715,364 L719.2,371 L710.8,371 Z" fill="#fff"/>
<path d="M740,308.5 L767,308.5" stroke="#fff" stroke-width="2" fill="none"/><path d="M773,308.5 L766,312.7 L766,304.3 Z" fill="#fff"/>
<path d="M697,540 L724,540" stroke="#fff" stroke-width="2" fill="none"/><path d="M730,540 L723,544.2 L723,535.8 Z" fill="#fff"/>
<path d="M740,540 L767,540" stroke="#fff" stroke-width="2" fill="none"/><path d="M773,540 L766,544.2 L766,535.8 Z" fill="#fff"/>
<path d="M658,623 L685,623" stroke="#fff" stroke-width="2" fill="none"/><path d="M691,623 L684,627.2 L684,618.8 Z" fill="#fff"/>
<path d="M715,667 L715,696" stroke="#fff" stroke-width="2" fill="none"/><path d="M715,702 L710.8,695 L719.2,695 Z" fill="#fff"/>
<path d="M740,769.5 L767,769.5" stroke="#fff" stroke-width="2" fill="none"/><path d="M773,769.5 L766,773.7 L766,765.3 Z" fill="#fff"/>
<path d="M973.5,286.5 V327.5" stroke="#f3f8fc" stroke-width="3.4"/>
<path d="M947,299.8 H973.5 V290.2 L992.5,307 L973.5,323.8 V314.2 H947 Z" fill="url(#outArrow)" stroke="#2d6ca3" stroke-width="1.6" stroke-linejoin="miter"/>
<path d="M973.5,519 V560" stroke="#f3f8fc" stroke-width="3.4"/>
<path d="M947,532.3 H973.5 V522.7 L992.5,539.5 L973.5,556.3 V546.7 H947 Z" fill="url(#outArrow)" stroke="#2d6ca3" stroke-width="1.6" stroke-linejoin="miter"/>
<path d="M973.5,749 V790" stroke="#f3f8fc" stroke-width="3.4"/>
<path d="M947,762.3 H973.5 V752.7 L992.5,769.5 L973.5,786.3 V776.7 H947 Z" fill="url(#outArrow)" stroke="#2d6ca3" stroke-width="1.6" stroke-linejoin="miter"/>
<polygon points="874,229 939.5,259.5 874,289.5 808.5,259.5" fill="url(#cubeTop)"/>
<polygon points="808.5,259.5 874,289.5 874,369 808.5,340" fill="url(#cubeL)"/>
<polygon points="874,289.5 939.5,259.5 939.5,340 874,369" fill="url(#cubeR)"/>
<path d="M808.5,259.5 L874,289.5 L939.5,259.5 M874,289.5 L874,365" fill="none" stroke="#eef6fc" stroke-width="1.2" opacity="0.8" transform="translate(0,2.2)"/>
<path d="M874,229 L939.5,259.5 L939.5,340 L874,369 L808.5,340 L808.5,259.5 Z M808.5,259.5 L874,289.5 L939.5,259.5 M874,289.5 L874,369" fill="none" stroke="#12376b" stroke-width="2.8" stroke-linejoin="round"/>
<polygon points="874,459 939.5,489.5 874,519.5 808.5,489.5" fill="url(#cubeTop)"/>
<polygon points="808.5,489.5 874,519.5 874,599 808.5,570" fill="url(#cubeL)"/>
<polygon points="874,519.5 939.5,489.5 939.5,570 874,599" fill="url(#cubeR)"/>
<path d="M808.5,489.5 L874,519.5 L939.5,489.5 M874,519.5 L874,595" fill="none" stroke="#eef6fc" stroke-width="1.2" opacity="0.8" transform="translate(0,2.2)"/>
<path d="M874,459 L939.5,489.5 L939.5,570 L874,599 L808.5,570 L808.5,489.5 Z M808.5,489.5 L874,519.5 L939.5,489.5 M874,519.5 L874,599" fill="none" stroke="#12376b" stroke-width="2.8" stroke-linejoin="round"/>
<polygon points="874,689.5 939.5,720 874,750 808.5,720" fill="url(#cubeTop)"/>
<polygon points="808.5,720 874,750 874,829.5 808.5,800.5" fill="url(#cubeL)"/>
<polygon points="874,750 939.5,720 939.5,800.5 874,829.5" fill="url(#cubeR)"/>
<path d="M808.5,720 L874,750 L939.5,720 M874,750 L874,825.5" fill="none" stroke="#eef6fc" stroke-width="1.2" opacity="0.8" transform="translate(0,2.2)"/>
<path d="M874,689.5 L939.5,720 L939.5,800.5 L874,829.5 L808.5,800.5 L808.5,720 Z M808.5,720 L874,750 L939.5,720 M874,750 L874,829.5" fill="none" stroke="#12376b" stroke-width="2.8" stroke-linejoin="round"/>
<path d="M98.9,346 V416 A36.9,12.4 0 0 0 172.7,416 V346 Z" fill="url(#dbSide)" stroke="#12376b" stroke-width="2.8"/>
<path d="M98.9,369.8 A36.9,9 0 0 0 172.7,369.8 L172.7,375.5 A36.9,9.6 0 0 1 98.9,375.5 Z" fill="#a5cfee"/>
<path d="M98.9,369.8 A36.9,9 0 0 0 172.7,369.8" fill="none" stroke="#12376b" stroke-width="2.8"/>
<path d="M100.5,378 A35.3,9.6 0 0 0 171.1,378" fill="none" stroke="#eaf5fc" stroke-width="1.7"/>
<path d="M98.9,375.5 A36.9,9.6 0 0 0 172.7,375.5" fill="none" stroke="#12376b" stroke-width="2.6"/>
<path d="M98.9,394.5 A36.9,8.2 0 0 0 172.7,394.5 L172.7,400.5 A36.9,8.6 0 0 1 98.9,400.5 Z" fill="#a5cfee"/>
<path d="M98.9,394.5 A36.9,8.2 0 0 0 172.7,394.5" fill="none" stroke="#12376b" stroke-width="2.8"/>
<path d="M100.5,403 A35.3,8.6 0 0 0 171.1,403" fill="none" stroke="#eaf5fc" stroke-width="1.7"/>
<path d="M98.9,400.5 A36.9,8.6 0 0 0 172.7,400.5" fill="none" stroke="#12376b" stroke-width="2.6"/>
<path d="M100.5,348.6 A35.3,14.4 0 0 0 171.1,348.6" fill="none" stroke="#eaf5fc" stroke-width="1.7"/>
<ellipse cx="135.8" cy="346" rx="36.9" ry="14.4" fill="url(#dbTop)" stroke="#12376b" stroke-width="2.8"/>
<circle cx="161" cy="366.7" r="1.9" fill="#2f6aa8" stroke="#12376b" stroke-width="0.9"/>
<circle cx="161" cy="391" r="1.9" fill="#2f6aa8" stroke="#12376b" stroke-width="0.9"/>
<circle cx="161" cy="415.5" r="1.9" fill="#2f6aa8" stroke="#12376b" stroke-width="0.9"/>
<path d="M177.82,633.99 L183.36,636.87 L180.61,643.52 L174.65,641.63 L171.13,645.15 L173.02,651.11 L166.37,653.86 L163.49,648.32 L158.51,648.32 L155.63,653.86 L148.98,651.11 L150.87,645.15 L147.35,641.63 L141.39,643.52 L138.64,636.87 L144.18,633.99 L144.18,629.01 L138.64,626.13 L141.39,619.48 L147.35,621.37 L150.87,617.85 L148.98,611.89 L155.63,609.14 L158.51,614.68 L163.49,614.68 L166.37,609.14 L173.02,611.89 L171.13,617.85 L174.65,621.37 L180.61,619.48 L183.36,626.13 L177.82,629.01 Z M153.5,631.5 a7.5,7.5 0 1 0 15,0 a7.5,7.5 0 1 0 -15,0 Z" fill="url(#gearG)" fill-rule="evenodd" stroke="#12376b" stroke-width="2.2" stroke-linejoin="round"/><circle cx="161" cy="631.5" r="10.7" fill="none" stroke="#9fcbec" stroke-width="2.6" opacity="0.9"/><circle cx="161" cy="631.5" r="12.7" fill="none" stroke="#12376b" stroke-width="1.2" opacity="0.6"/>
<path d="M178.37,673.19 L183.47,674 L182.92,679.45 L177.76,679.23 L176.03,682.46 L179.06,686.65 L174.82,690.11 L171.32,686.31 L167.81,687.37 L167,692.47 L161.55,691.92 L161.77,686.76 L158.54,685.03 L154.35,688.06 L150.89,683.82 L154.69,680.32 L153.63,676.81 L148.53,676 L149.08,670.55 L154.24,670.77 L155.97,667.54 L152.94,663.35 L157.18,659.89 L160.68,663.69 L164.19,662.63 L165,657.53 L170.45,658.08 L170.23,663.24 L173.46,664.97 L177.65,661.94 L181.11,666.18 L177.31,669.68 Z M161,675 a5,5 0 1 0 10,0 a5,5 0 1 0 -10,0 Z" fill="url(#gearG)" fill-rule="evenodd" stroke="#12376b" stroke-width="2.2" stroke-linejoin="round"/>
<circle cx="166" cy="675" r="7.6" fill="none" stroke="#9fcbec" stroke-width="1.8"/>
<path d="M138.56,660.03 L146.33,661.24 L145.85,670.77 L138,671.2 L135.11,677.3 L139.75,683.64 L132.67,690.04 L126.82,684.79 L120.47,687.06 L119.26,694.83 L109.73,694.35 L109.3,686.5 L103.2,683.61 L96.86,688.25 L90.46,681.17 L95.71,675.32 L93.44,668.97 L85.67,667.76 L86.15,658.23 L94,657.8 L96.89,651.7 L92.25,645.36 L99.33,638.96 L105.18,644.21 L111.53,641.94 L112.74,634.17 L122.27,634.65 L122.7,642.5 L128.8,645.39 L135.14,640.75 L141.54,647.83 L136.29,653.68 Z M106,664.5 a10,10 0 1 0 20,0 a10,10 0 1 0 -20,0 Z" fill="url(#gearG)" fill-rule="evenodd" stroke="#12376b" stroke-width="2.2" stroke-linejoin="round"/><circle cx="116" cy="664.5" r="13.2" fill="none" stroke="#9fcbec" stroke-width="2.6" opacity="0.9"/><circle cx="116" cy="664.5" r="15.2" fill="none" stroke="#12376b" stroke-width="1.2" opacity="0.6"/>
<g transform="matrix(1,0.458,0,1,808.5,259.5)"><rect x="12" y="56" width="7.5" height="10" fill="#4f8bc5" stroke="#1f5c99" stroke-width="1.5"/><rect x="23.5" y="47" width="7.5" height="19" fill="#4f8bc5" stroke="#1f5c99" stroke-width="1.5"/><rect x="34.5" y="38.5" width="7.5" height="27.5" fill="#4f8bc5" stroke="#1f5c99" stroke-width="1.5"/><rect x="46" y="26" width="7.5" height="40" fill="#4f8bc5" stroke="#1f5c99" stroke-width="1.5"/><path d="M12.5,47.3 L25.75,30 L34.5,32.7 L49.5,12.6" fill="none" stroke="#1f5c99" stroke-width="2.1" stroke-linejoin="round"/><path d="M42,13.5 L50.5,11 L51,20.5" fill="none" stroke="#1f5c99" stroke-width="2.1" stroke-linejoin="round"/></g>
<g transform="matrix(1,-0.458,0,1,874,289.5)"><circle cx="32.75" cy="39.25" r="19.5" fill="#8dbbe3" stroke="#1f5c99" stroke-width="2.1"/><g transform="translate(32.75,39.25) matrix(1,0.3,0,1,0,0)"><text x="0" y="11.5" font-size="33" font-weight="bold" text-anchor="middle" fill="#1f5c99">$</text></g></g>
<g transform="matrix(1,0.458,0,1,808.5,489.5)"><ellipse cx="43.5" cy="32.8" rx="6.3" ry="7.8" fill="#7db0dd" stroke="#1f5c99" stroke-width="1.9"/><path d="M34,58.5 V52 Q34,41.6 43.5,41.6 Q56.4,43 56.4,58.5 Z" fill="#7db0dd" stroke="#1f5c99" stroke-width="1.9" stroke-linejoin="round"/><ellipse cx="24.9" cy="29.7" rx="8.7" ry="10" fill="#5f99cf" stroke="#1f5c99" stroke-width="1.9"/><path d="M9.9,64.5 V55 Q10,40.8 24.9,40.8 Q40,42 40,64.5 Z" fill="#5f99cf" stroke="#1f5c99" stroke-width="1.9" stroke-linejoin="round"/></g>
<g transform="matrix(1,-0.458,0,1,874,519.5)"><path d="M49.62,43.12 L54.69,45.84 L52.06,52.19 L46.55,50.53 L43.13,53.95 L44.79,59.46 L38.44,62.09 L35.72,57.02 L30.88,57.02 L28.16,62.09 L21.81,59.46 L23.47,53.95 L20.05,50.53 L14.54,52.19 L11.91,45.84 L16.98,43.12 L16.98,38.28 L11.91,35.56 L14.54,29.21 L20.05,30.87 L23.47,27.45 L21.81,21.94 L28.16,19.31 L30.88,24.38 L35.72,24.38 L38.44,19.31 L44.79,21.94 L43.13,27.45 L46.55,30.87 L52.06,29.21 L54.69,35.56 L49.62,38.28 Z M24.5,40.7 a8.8,8.8 0 1 0 17.6,0 a8.8,8.8 0 1 0 -17.6,0 Z" fill="#86b6e0" fill-rule="evenodd" stroke="#1f5c99" stroke-width="2.2" stroke-linejoin="round"/></g>
<path d="M826.4,780.5 L830.2,796.2 L836.4,796.2 L833.5,781" fill="#7fb2de" stroke="#1f5c99" stroke-width="1.9" stroke-linejoin="round"/><path d="M822,764 H830 L850,756 V793.5 L830,780 H822 Q817.5,772 822,764 Z" fill="#a5cbea" stroke="#1f5c99" stroke-width="2" stroke-linejoin="round"/><path d="M830,764 V780" stroke="#1f5c99" stroke-width="1.8"/><path d="M822,764 H830 V780 H822 Q817.5,772 822,764 Z" fill="#6fa5d6" stroke="#1f5c99" stroke-width="1.8" stroke-linejoin="round"/><ellipse cx="855" cy="775" rx="7.3" ry="20.3" fill="#8fbfe6" stroke="#1f5c99" stroke-width="2"/><ellipse cx="851.5" cy="775" rx="3.8" ry="7.8" fill="#b9d7ef" stroke="#1f5c99" stroke-width="1.6"/>
<g transform="matrix(1,-0.458,0,1,874,750)"><circle cx="32" cy="41.5" r="20" fill="#6a9fd2" stroke="#1f5c99" stroke-width="1.9"/><circle cx="32" cy="41.5" r="13.6" fill="#b7d4ee" stroke="#1f5c99" stroke-width="1.9"/><circle cx="32" cy="41.5" r="7.6" fill="#6a9fd2" stroke="#1f5c99" stroke-width="1.9"/><circle cx="32" cy="41.5" r="2.8" fill="#b7d4ee" stroke="#1f5c99" stroke-width="1.9"/><path d="M32,41.5 L50,25" stroke="#1f5c99" stroke-width="2.5" stroke-linecap="round"/><path d="M48,27 L50,16.5 L54.5,21.5 L60.5,21 L55.5,29 Z" fill="#1f5c99" stroke="#1f5c99" stroke-width="1" stroke-linejoin="round"/></g>
<path d="M444,549 L427,589 L467,567.5 L421,563 L459,593.5 Z" fill="#9cc3e6" fill-opacity="0.55" stroke="#1f5c99" stroke-width="1.8" stroke-linejoin="round"/>
<circle cx="444" cy="549" r="3.7" fill="#8dbae1" stroke="#1f5c99" stroke-width="1.7"/>
<circle cx="421" cy="563" r="3.7" fill="#8dbae1" stroke="#1f5c99" stroke-width="1.7"/>
<circle cx="467" cy="567.5" r="3.7" fill="#8dbae1" stroke="#1f5c99" stroke-width="1.7"/>
<circle cx="427" cy="589" r="3.7" fill="#8dbae1" stroke="#1f5c99" stroke-width="1.7"/>
<circle cx="459" cy="593.5" r="3.7" fill="#8dbae1" stroke="#1f5c99" stroke-width="1.7"/>
<path d="M513,563 V570 M497,588 V570 H528 V580 M513,570 V600 H522 M513,581.5 H521" fill="none" stroke="#1f5c99" stroke-width="1.7"/>
<rect x="505" y="553.5" width="16" height="9" fill="#6ea5d7" stroke="#1f5c99" stroke-width="1.7"/>
<rect x="489" y="588" width="16" height="9" fill="#6ea5d7" stroke="#1f5c99" stroke-width="1.7"/>
<rect x="521" y="577" width="16" height="9" fill="#6ea5d7" stroke="#1f5c99" stroke-width="1.7"/>
<rect x="521" y="595" width="16" height="9" fill="#6ea5d7" stroke="#1f5c99" stroke-width="1.7"/>
<path d="M580,574 L580,596.5 M580,583.5 L575.01,586.83 M580,583.5 L584.99,586.83 M580,590 L574.18,593.89 M580,590 L585.82,593.89 M580,574 L560.51,585.25 M571.77,578.75 L566.39,576.1 M571.77,578.75 L571.38,584.74 M566.14,582 L559.87,578.9 M566.14,582 L565.69,588.99 M580,574 L560.51,562.75 M571.77,569.25 L571.38,563.26 M571.77,569.25 L566.39,571.9 M566.14,566 L565.69,559.01 M566.14,566 L559.87,569.1 M580,574 L580,551.5 M580,564.5 L584.99,561.17 M580,564.5 L575.01,561.17 M580,558 L585.82,554.11 M580,558 L574.18,554.11 M580,574 L599.49,562.75 M588.23,569.25 L593.61,571.9 M588.23,569.25 L588.62,563.26 M593.86,566 L600.13,569.1 M593.86,566 L594.31,559.01 M580,574 L599.49,585.25 M588.23,578.75 L588.62,584.74 M588.23,578.75 L593.61,576.1 M593.86,582 L594.31,588.99 M593.86,582 L600.13,578.9 " fill="none" stroke="#1f5c99" stroke-width="2.2" stroke-linecap="round"/>
<text x="516" y="68.7" font-size="34.5" font-weight="bold" text-anchor="middle" fill="#0e2a52" textLength="826" lengthAdjust="spacingAndGlyphs" stroke="#0e2a52" stroke-width="0.45" stroke-linejoin="round">DATA WAREHOUSE AND DATA MARTS ARCHITECTURE</text>
<text x="513" y="102.5" font-size="22" font-weight="normal" text-anchor="middle" fill="#16294a" textLength="554" lengthAdjust="spacingAndGlyphs">Scalable, Integrated, and Department-Specific Data Platform</text>
<text x="135" y="201" font-size="22" font-weight="bold" text-anchor="middle" fill="#0c2142" textLength="80" lengthAdjust="spacingAndGlyphs" stroke="#0c2142" stroke-width="0.45" stroke-linejoin="round">SOURCE</text>
<text x="135.2" y="227.5" font-size="22" font-weight="bold" text-anchor="middle" fill="#0c2142" textLength="94.5" lengthAdjust="spacingAndGlyphs" stroke="#0c2142" stroke-width="0.45" stroke-linejoin="round">SYSTEMS</text>
<text x="512" y="201" font-size="22" font-weight="bold" text-anchor="middle" fill="#0c2142" textLength="123" lengthAdjust="spacingAndGlyphs" stroke="#0c2142" stroke-width="0.45" stroke-linejoin="round">ENTERPRISE</text>
<text x="512" y="227.5" font-size="22" font-weight="bold" text-anchor="middle" fill="#0c2142" textLength="185" lengthAdjust="spacingAndGlyphs" stroke="#0c2142" stroke-width="0.45" stroke-linejoin="round">DATA WAREHOUSE</text>
<text x="874" y="201" font-size="22" font-weight="bold" text-anchor="middle" fill="#0c2142" textLength="122.5" lengthAdjust="spacingAndGlyphs" stroke="#0c2142" stroke-width="0.45" stroke-linejoin="round">DATA MARTS</text>
<text x="135.7" y="460" font-size="22" font-weight="bold" text-anchor="middle" fill="#0c2142" textLength="93.5" lengthAdjust="spacingAndGlyphs" stroke="#0c2142" stroke-width="0.45" stroke-linejoin="round">Databases</text>
<text x="135.7" y="484" font-size="19" font-weight="normal" text-anchor="middle" fill="#0c2142" textLength="96.5" lengthAdjust="spacingAndGlyphs">SQL, NoSQL,</text>
<text x="135.2" y="505" font-size="19" font-weight="normal" text-anchor="middle" fill="#0c2142" textLength="89.5" lengthAdjust="spacingAndGlyphs">Legacy DBs</text>
<text x="135.5" y="731" font-size="22" font-weight="bold" text-anchor="middle" fill="#0c2142" textLength="35" lengthAdjust="spacingAndGlyphs" stroke="#0c2142" stroke-width="0.45" stroke-linejoin="round">ERP</text>
<text x="135.2" y="755" font-size="19" font-weight="normal" text-anchor="middle" fill="#0c2142" textLength="90.5" lengthAdjust="spacingAndGlyphs">SAP, Oracle,</text>
<text x="136" y="776" font-size="19" font-weight="normal" text-anchor="middle" fill="#0c2142" textLength="76" lengthAdjust="spacingAndGlyphs">Dynamics</text>
<text x="311" y="486" font-size="20.5" font-weight="bold" text-anchor="middle" fill="#0c2142" textLength="38" lengthAdjust="spacingAndGlyphs" stroke="#0c2142" stroke-width="0.45" stroke-linejoin="round">Data</text>
<text x="311" y="508" font-size="20.5" font-weight="bold" text-anchor="middle" fill="#0c2142" textLength="80" lengthAdjust="spacingAndGlyphs" stroke="#0c2142" stroke-width="0.45" stroke-linejoin="round">Ingestion</text>
<text x="310.5" y="764" font-size="20.5" font-weight="bold" text-anchor="middle" fill="#0c2142" textLength="79" lengthAdjust="spacingAndGlyphs" stroke="#0c2142" stroke-width="0.45" stroke-linejoin="round">ETL / ELT</text>
<text x="310.5" y="786" font-size="20.5" font-weight="bold" text-anchor="middle" fill="#0c2142" textLength="69" lengthAdjust="spacingAndGlyphs" stroke="#0c2142" stroke-width="0.45" stroke-linejoin="round">Process</text>
<text x="716" y="261" font-size="20.5" font-weight="bold" text-anchor="middle" fill="#0c2142" textLength="38" lengthAdjust="spacingAndGlyphs" stroke="#0c2142" stroke-width="0.45" stroke-linejoin="round">Data</text>
<text x="716.2" y="283" font-size="20.5" font-weight="bold" text-anchor="middle" fill="#0c2142" textLength="86.5" lengthAdjust="spacingAndGlyphs" stroke="#0c2142" stroke-width="0.45" stroke-linejoin="round">Extraction</text>
<text x="716" y="495" font-size="20.5" font-weight="bold" text-anchor="middle" fill="#0c2142" textLength="38" lengthAdjust="spacingAndGlyphs" stroke="#0c2142" stroke-width="0.45" stroke-linejoin="round">Data</text>
<text x="716.2" y="517" font-size="20.5" font-weight="bold" text-anchor="middle" fill="#0c2142" textLength="86.5" lengthAdjust="spacingAndGlyphs" stroke="#0c2142" stroke-width="0.45" stroke-linejoin="round">Extraction</text>
<text x="716" y="805.5" font-size="20.5" font-weight="bold" text-anchor="middle" fill="#0c2142" textLength="38" lengthAdjust="spacingAndGlyphs" stroke="#0c2142" stroke-width="0.45" stroke-linejoin="round">Data</text>
<text x="716.2" y="827.5" font-size="20.5" font-weight="bold" text-anchor="middle" fill="#0c2142" textLength="86.5" lengthAdjust="spacingAndGlyphs" stroke="#0c2142" stroke-width="0.45" stroke-linejoin="round">Extraction</text>
<text x="874.5" y="394" font-size="22" font-weight="bold" text-anchor="middle" fill="#0c2142" textLength="145" lengthAdjust="spacingAndGlyphs" stroke="#0c2142" stroke-width="0.45" stroke-linejoin="round">Sales Data Mart</text>
<text x="874.2" y="416" font-size="19" font-weight="normal" text-anchor="middle" fill="#0c2142" textLength="128.5" lengthAdjust="spacingAndGlyphs">Revenue, Orders,</text>
<text x="874" y="437.5" font-size="19" font-weight="normal" text-anchor="middle" fill="#0c2142" textLength="82" lengthAdjust="spacingAndGlyphs">Customers</text>
<text x="874" y="624" font-size="22" font-weight="bold" text-anchor="middle" fill="#0c2142" textLength="120" lengthAdjust="spacingAndGlyphs" stroke="#0c2142" stroke-width="0.45" stroke-linejoin="round">HR Data Mart</text>
<text x="874" y="647.5" font-size="19" font-weight="normal" text-anchor="middle" fill="#0c2142" textLength="110" lengthAdjust="spacingAndGlyphs">Employee Info,</text>
<text x="874" y="668" font-size="19" font-weight="normal" text-anchor="middle" fill="#0c2142" textLength="160" lengthAdjust="spacingAndGlyphs">Payroll, Performance</text>
<text x="874.2" y="855" font-size="22" font-weight="bold" text-anchor="middle" fill="#0c2142" textLength="187.5" lengthAdjust="spacingAndGlyphs" stroke="#0c2142" stroke-width="0.45" stroke-linejoin="round">Marketing Data Mart</text>
<text x="874" y="879" font-size="19" font-weight="normal" text-anchor="middle" fill="#0c2142" textLength="145" lengthAdjust="spacingAndGlyphs">Campaigns, Leads,</text>
<text x="874" y="899" font-size="19" font-weight="normal" text-anchor="middle" fill="#0c2142" textLength="70" lengthAdjust="spacingAndGlyphs">Analytics</text>
<text x="512" y="455.5" font-size="23" font-weight="bold" text-anchor="middle" fill="#0c2142" textLength="131" lengthAdjust="spacingAndGlyphs" stroke="#0c2142" stroke-width="0.2">Data Services /</text>
<text x="512" y="478.5" font-size="23" font-weight="bold" text-anchor="middle" fill="#0c2142" textLength="134" lengthAdjust="spacingAndGlyphs" stroke="#0c2142" stroke-width="0.2">Semantic Layer</text>
<path id="arcT" d="M416,534.6 C470,538 520,543.5 552,540.6 C575,538.4 595,533.2 610,528.6" fill="none"/>
<text font-size="22.5" font-weight="bold" fill="#0c2142" stroke="#0c2142" stroke-width="0.2" text-anchor="middle" textLength="188" lengthAdjust="spacingAndGlyphs"><textPath href="#arcT" startOffset="50%" textLength="188" lengthAdjust="spacingAndGlyphs">Integrated Data Layer</textPath></text>
<text x="512" y="744.5" font-size="21.5" font-weight="bold" text-anchor="middle" fill="#0c2142" textLength="112.5" lengthAdjust="spacingAndGlyphs" stroke="#0c2142" stroke-width="0.2">Staging Area</text>
</svg>
</body></html>
